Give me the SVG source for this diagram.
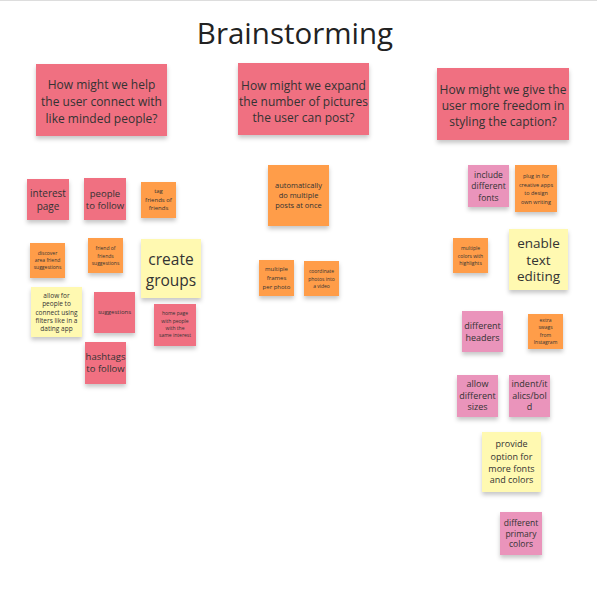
<svg xmlns="http://www.w3.org/2000/svg" width="597" height="609" viewBox="0 0 597 609">
<style>
text{font-family:"Open Sans","Noto Sans","Liberation Sans",sans-serif;fill:#333;text-anchor:middle;dominant-baseline:central}
.pink{fill:#f06f81}
.org{fill:#ff9d48}
.yel{fill:#fff9b1}
.mag{fill:#ea94bb}
.n rect{filter:url(#sh)}
</style>
<defs>
<filter id="sh" x="-20%" y="-20%" width="140%" height="150%">
<feDropShadow dx="0" dy="3" stdDeviation="2" flood-color="#000" flood-opacity="0.22"/>
</filter>
</defs>
<rect x="0" y="0" width="597" height="609" fill="#fff"/>
<line x1="0" y1="0.5" x2="597" y2="0.5" stroke="#ddd"/>
<text x="295" y="32" font-size="29.5" style="fill:#222">Brainstorming</text>

<g id="h1" class="n"><rect class="pink" x="36" y="64" width="131" height="72"/>
<text x="101.5" y="84" font-size="12">How might we help</text>
<text x="101.5" y="101" font-size="12">the user connect with</text>
<text x="101.5" y="118" font-size="12">like minded people?</text></g>
<g id="h2" class="n"><rect class="pink" x="238" y="63" width="131" height="72"/>
<text x="303.5" y="85" font-size="12">How might we expand</text>
<text x="303.5" y="101" font-size="12">the number of pictures</text>
<text x="303.5" y="117.5" font-size="12">the user can post?</text></g>
<g id="h3" class="n"><rect class="pink" x="437" y="68" width="132" height="72"/>
<text x="503" y="89.5" font-size="12">How might we give the</text>
<text x="503" y="105.5" font-size="12">user more freedom in</text>
<text x="503" y="121" font-size="12">styling the caption?</text></g>

<g id="s1" class="n"><rect class="pink" x="27" y="179" width="42" height="41"/>
<text x="48" y="193" font-size="10">interest</text><text x="48" y="206" font-size="10">page</text></g>
<g id="s2" class="n"><rect class="pink" x="84" y="178" width="42" height="42"/>
<text x="105" y="193.5" font-size="9.5">people</text><text x="105" y="205.5" font-size="9.5">to follow</text></g>
<g id="s3" class="n"><rect class="org" x="141" y="182" width="35" height="36"/>
<text x="158.5" y="191" font-size="6">tag</text><text x="158.5" y="199.5" font-size="6">friends of</text><text x="158.5" y="208" font-size="6">friends</text></g>
<g id="s4" class="n"><rect class="org" x="30" y="243" width="35" height="35"/>
<text x="47.5" y="253" font-size="5">discover</text><text x="47.5" y="260" font-size="5">area friend</text><text x="47.5" y="267" font-size="5">suggestions</text></g>
<g id="s5" class="n"><rect class="org" x="88" y="238" width="35" height="35"/>
<text x="105.5" y="248" font-size="5">friend of</text><text x="105.5" y="255.5" font-size="5">friends</text><text x="105.5" y="263" font-size="5">suggestions</text></g>
<g id="s6" class="n"><rect class="yel" x="141" y="239" width="60" height="59"/>
<text x="171" y="259" font-size="15.5">create</text><text x="171" y="280" font-size="15.5">groups</text></g>
<g id="s7" class="n"><rect class="yel" x="31" y="287" width="51" height="50"/>
<text x="56.5" y="295" font-size="6.5">allow for</text><text x="56.5" y="303.5" font-size="6.5">people to</text><text x="56.5" y="312" font-size="6.5">connect using</text><text x="56.5" y="320" font-size="6.5">filters like in a</text><text x="56.5" y="328.5" font-size="6.5">dating app</text></g>
<g id="s8" class="n"><rect class="pink" x="94" y="292" width="41" height="41"/>
<text x="114.5" y="312" font-size="6">suggestions</text></g>
<g id="s9" class="n"><rect class="pink" x="154" y="304" width="42" height="42"/>
<text x="175" y="313" font-size="5">home page</text><text x="175" y="320.5" font-size="5">with people</text><text x="175" y="328" font-size="5">with the</text><text x="175" y="335" font-size="5">same interest</text></g>
<g id="s10" class="n"><rect class="pink" x="85" y="342" width="41" height="42"/>
<text x="105.5" y="356.5" font-size="9.5">hashtags</text><text x="105.5" y="368.5" font-size="9.5">to follow</text></g>

<g id="m1" class="n"><rect class="org" x="268" y="165" width="61" height="61"/>
<text x="298.5" y="185" font-size="7.5">automatically</text><text x="298.5" y="195" font-size="7.5">do multiple</text><text x="298.5" y="205" font-size="7.5">posts at once</text></g>
<g id="m2" class="n"><rect class="org" x="259" y="260" width="35" height="36"/>
<text x="276.5" y="269" font-size="6">multiple</text><text x="276.5" y="278" font-size="6">frames</text><text x="276.5" y="287" font-size="6">per photo</text></g>
<g id="m3" class="n"><rect class="org" x="304" y="261" width="35" height="35"/>
<text x="321.5" y="271" font-size="5">coordinate</text><text x="321.5" y="278.5" font-size="5">photos into</text><text x="321.5" y="286" font-size="5">a video</text></g>

<g id="r1" class="n"><rect class="mag" x="468" y="165" width="41" height="42"/>
<text x="488.5" y="174" font-size="8.5">include</text><text x="488.5" y="185.5" font-size="8.5">different</text><text x="488.5" y="197" font-size="8.5">fonts</text></g>
<g id="r2" class="n"><rect class="org" x="515" y="165" width="42" height="47"/>
<text x="536" y="176" font-size="5.5">plug in for</text><text x="536" y="184.5" font-size="5.5">creative apps</text><text x="536" y="193" font-size="5.5">to design</text><text x="536" y="201.5" font-size="5.5">own writing</text></g>
<g id="r3" class="n"><rect class="org" x="453" y="238" width="35" height="35"/>
<text x="470.5" y="248" font-size="5">multiple</text><text x="470.5" y="255.5" font-size="5">colors with</text><text x="470.5" y="263" font-size="5">highlights</text></g>
<g id="r4" class="n"><rect class="yel" x="509" y="229" width="59" height="61"/>
<text x="538.5" y="243" font-size="13.5">enable</text><text x="538.5" y="259.5" font-size="13.5">text</text><text x="538.5" y="276" font-size="13.5">editing</text></g>
<g id="r5" class="n"><rect class="mag" x="462" y="311" width="41" height="41"/>
<text x="482.5" y="325.5" font-size="9">different</text><text x="482.5" y="337.5" font-size="9">headers</text></g>
<g id="r6" class="n"><rect class="org" x="528" y="314" width="35" height="35"/>
<text x="545.5" y="319.5" font-size="5">extra</text><text x="545.5" y="327" font-size="5">swags</text><text x="545.5" y="334.5" font-size="5">from</text><text x="545.5" y="342" font-size="5">Instagram</text></g>
<g id="r7" class="n"><rect class="mag" x="457" y="375" width="41" height="42"/>
<text x="477.5" y="383.5" font-size="9">allow</text><text x="477.5" y="395" font-size="9">different</text><text x="477.5" y="406.5" font-size="9">sizes</text></g>
<g id="r8" class="n"><rect class="mag" x="509" y="375" width="41" height="42"/>
<text x="529.5" y="383.5" font-size="9">indent/it</text><text x="529.5" y="395" font-size="9">alics/bol</text><text x="529.5" y="406.5" font-size="9">d</text></g>
<g id="r9" class="n"><rect class="yel" x="482" y="432" width="59" height="60"/>
<text x="511.5" y="443" font-size="9">provide</text><text x="511.5" y="456" font-size="9">option for</text><text x="511.5" y="468" font-size="9">more fonts</text><text x="511.5" y="479.5" font-size="9">and colors</text></g>
<g id="r10" class="n"><rect class="mag" x="500" y="512" width="42" height="43"/>
<text x="521" y="522" font-size="8.5">different</text><text x="521" y="533" font-size="8.5">primary</text><text x="521" y="543.5" font-size="8.5">colors</text></g>
<g id="connectors"/>
</svg>
